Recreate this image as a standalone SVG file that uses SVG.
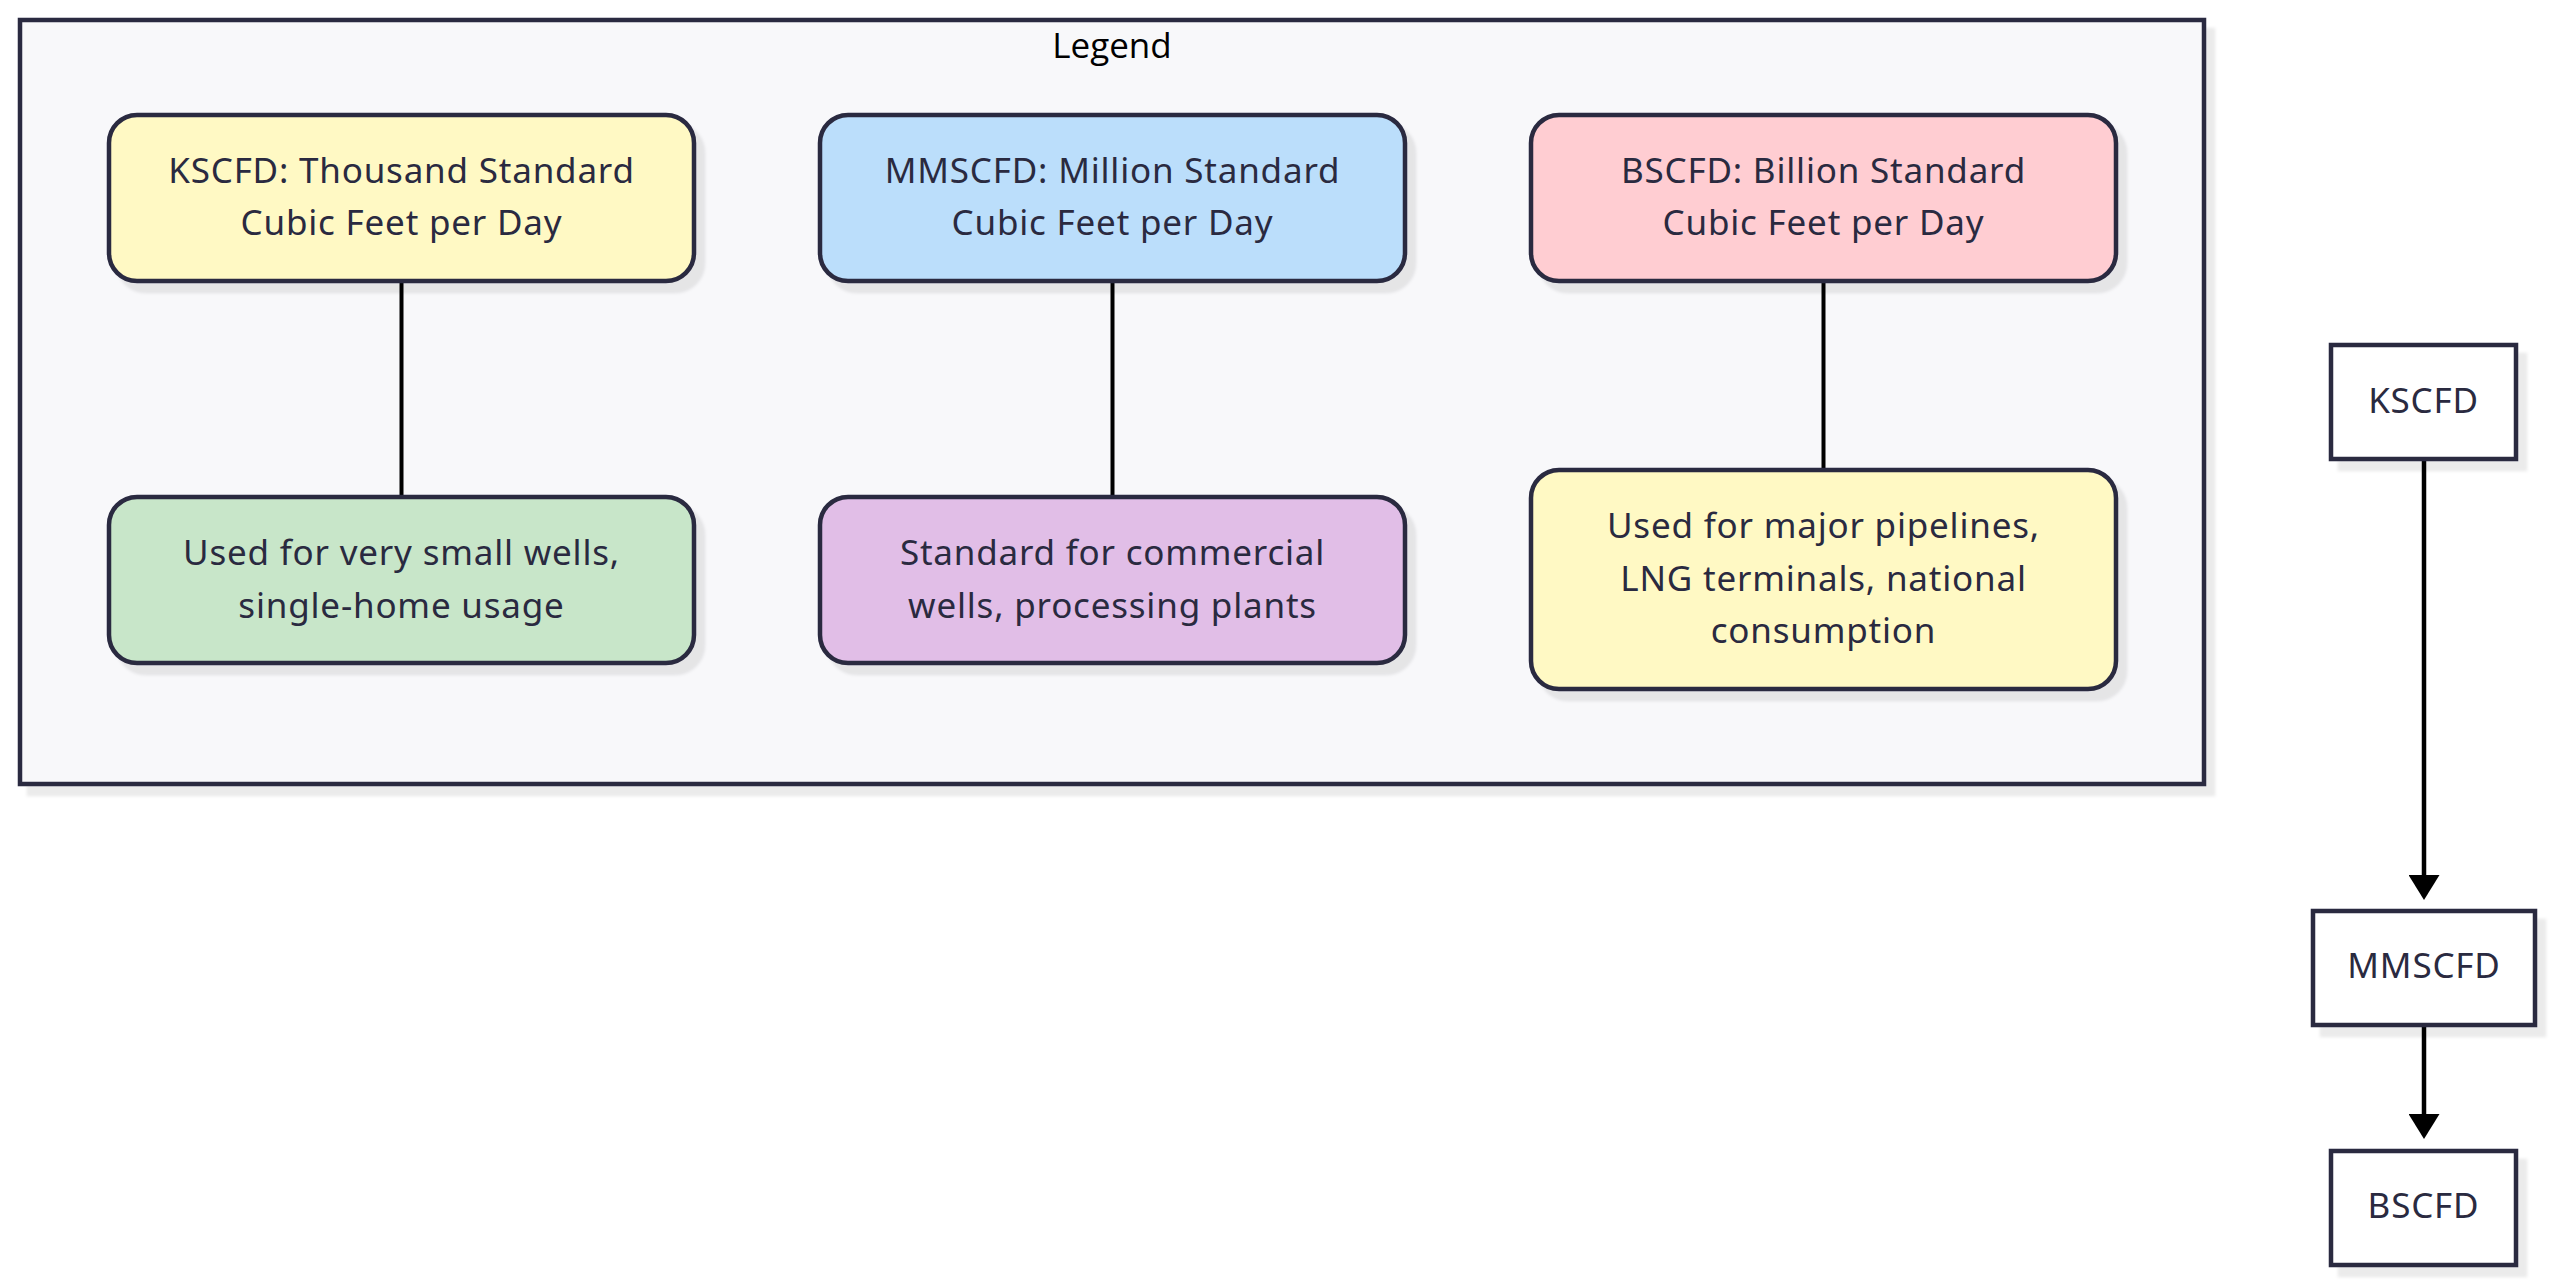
<svg xmlns="http://www.w3.org/2000/svg" width="2560" height="1287" viewBox="0 0 2560 1287">
<style>
.node{stroke:#2a2a40;stroke-width:4.5}
.lbl{font-family:"Noto Sans","Liberation Sans",sans-serif;font-size:35px;fill:#2a2a40;text-anchor:middle;letter-spacing:0.8px}
.title{font-family:"Open Sans","Noto Sans",sans-serif;font-size:35px;fill:#000;text-anchor:middle}
.link{stroke:#000;stroke-width:4;fill:none}
.flow{stroke:#000;stroke-width:4.5;fill:none}
</style>
<defs>
<filter id="sh" x="-5%" y="-5%" width="115%" height="125%">
<feDropShadow dx="9" dy="10" stdDeviation="1.5" flood-color="#000" flood-opacity="0.08"/>
</filter>
<marker id="arrow" viewBox="0 0 25 31" refX="15" refY="15.5" markerWidth="25" markerHeight="31" markerUnits="userSpaceOnUse" orient="auto">
<path d="M0,0 L25,15.5 L0,31 z" fill="#000"/>
</marker>
</defs>
<rect width="2560" height="1287" fill="#ffffff"/>
<g id="legend">
<rect x="20" y="20" width="2184" height="764" fill="#f8f8fa" class="node" filter="url(#sh)"/>
<text class="title" x="1112" y="58">Legend</text>
</g>
<g id="connectors">
<line class="link" x1="401.5" y1="281" x2="401.5" y2="497"/>
<line class="link" x1="1112.5" y1="281" x2="1112.5" y2="497"/>
<line class="link" x1="1823.5" y1="281" x2="1823.5" y2="470"/>
<line class="flow" x1="2424" y1="459" x2="2424" y2="890" marker-end="url(#arrow)"/>
<line class="flow" x1="2424" y1="1025" x2="2424" y2="1129" marker-end="url(#arrow)"/>
</g>
<g id="K1">
<rect x="109" y="115" width="585" height="166" rx="28" fill="#fff9c4" class="node" filter="url(#sh)"/>
<text class="lbl" x="401.5" y="183">KSCFD: Thousand Standard</text>
<text class="lbl" x="401.5" y="235">Cubic Feet per Day</text>
</g>
<g id="M1">
<rect x="820" y="115" width="585" height="166" rx="28" fill="#bbdefb" class="node" filter="url(#sh)"/>
<text class="lbl" x="1112.5" y="183">MMSCFD: Million Standard</text>
<text class="lbl" x="1112.5" y="235">Cubic Feet per Day</text>
</g>
<g id="B1">
<rect x="1531" y="115" width="585" height="166" rx="28" fill="#ffcdd2" class="node" filter="url(#sh)"/>
<text class="lbl" x="1823.5" y="183">BSCFD: Billion Standard</text>
<text class="lbl" x="1823.5" y="235">Cubic Feet per Day</text>
</g>
<g id="K2">
<rect x="109" y="497" width="585" height="166" rx="28" fill="#c8e6c9" class="node" filter="url(#sh)"/>
<text class="lbl" x="401.5" y="565">Used for very small wells,</text>
<text class="lbl" x="401.5" y="618">single-home usage</text>
</g>
<g id="M2">
<rect x="820" y="497" width="585" height="166" rx="28" fill="#e1bee7" class="node" filter="url(#sh)"/>
<text class="lbl" x="1112.5" y="565">Standard for commercial</text>
<text class="lbl" x="1112.5" y="618">wells, processing plants</text>
</g>
<g id="B2">
<rect x="1531" y="470" width="585" height="219" rx="28" fill="#fff9c4" class="node" filter="url(#sh)"/>
<text class="lbl" x="1823.5" y="538">Used for major pipelines,</text>
<text class="lbl" x="1823.5" y="591">LNG terminals, national</text>
<text class="lbl" x="1823.5" y="643">consumption</text>
</g>
<g id="KSCFD">
<rect x="2331" y="345" width="185" height="114" fill="#ffffff" class="node" filter="url(#sh)"/>
<text class="lbl" x="2423.5" y="413">KSCFD</text>
</g>
<g id="MMSCFD">
<rect x="2313" y="911" width="222" height="114" fill="#ffffff" class="node" filter="url(#sh)"/>
<text class="lbl" x="2424" y="978">MMSCFD</text>
</g>
<g id="BSCFD">
<rect x="2331" y="1151" width="185" height="114" fill="#ffffff" class="node" filter="url(#sh)"/>
<text class="lbl" x="2423.5" y="1218">BSCFD</text>
</g>
</svg>
